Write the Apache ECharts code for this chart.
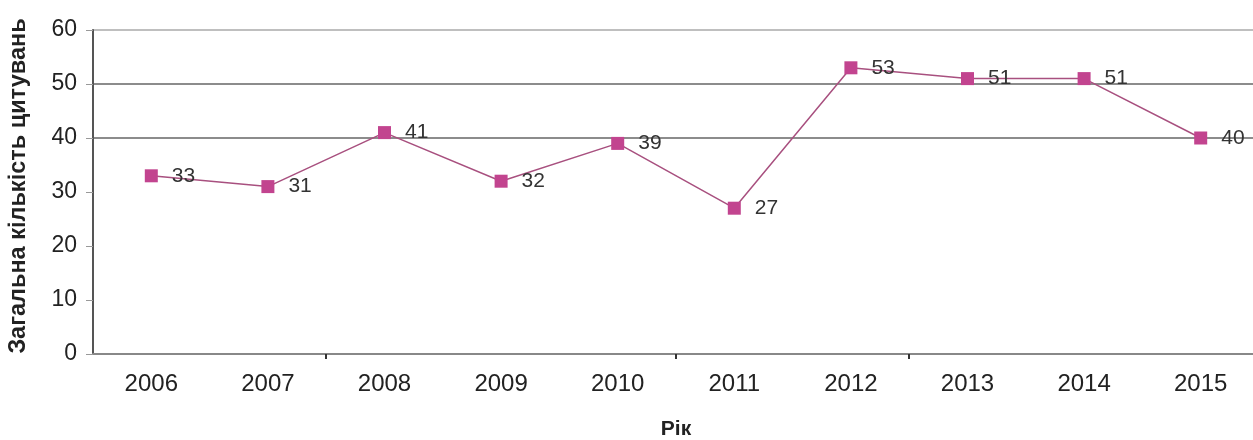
<!DOCTYPE html>
<html>
<head>
<meta charset="utf-8">
<script src="https://cdn.jsdelivr.net/npm/echarts@6/dist/echarts.min.js"></script>
<style>
html,body{margin:0;padding:0;background:#fff;}
#chart{width:1253px;height:440px;}
</style>
</head>
<body>
<div id="chart"></div>
<script>
const years = ['2006','2007','2008','2009','2010','2011','2012','2013','2014','2015'];
const citations = [33, 31, 41, 32, 39, 27, 53, 51, 51, 40];
const yAxisTitle = 'Загальна кількість цитувань';
const xAxisTitle = 'Рік';
const tickedBoundaries = [2, 5, 7];

const chart = echarts.init(document.getElementById('chart'));
const font = '"Liberation Sans", Arial, sans-serif';
chart.setOption({
  animation: false,
  backgroundColor: '#fff',
  grid: { left: 93, right: -6, top: 30, bottom: 86, containLabel: false, outerBoundsMode: 'none' },
  xAxis: {
    type: 'category',
    data: years,
    boundaryGap: true,
    name: xAxisTitle,
    nameLocation: 'middle',
    nameGap: 65,
    nameMoveOverlap: false,
    nameTextStyle: { fontFamily: font, fontSize: 21, fontWeight: 'bold', color: '#222' },
    axisLine: { lineStyle: { color: '#888', width: 2 } },
    axisTick: { show: true, length: 5, inside: false, lineStyle: { color: '#333', width: 2 },
      interval: function (idx) { return tickedBoundaries.indexOf(idx) >= 0; } },
    axisLabel: { fontFamily: font, fontSize: 24, color: '#222', margin: 18, interval: 0 },
    splitLine: { show: false }
  },
  yAxis: {
    type: 'value',
    min: 0, max: 60, interval: 10,
    name: yAxisTitle,
    nameLocation: 'middle',
    nameGap: 62,
    nameRotate: 90,
    nameTextStyle: { fontFamily: font, fontSize: 23.5, fontWeight: 'bold', color: '#222', padding: [0, 0, 0, 12] },
    axisLine: { show: true, lineStyle: { color: '#555', width: 2 } },
    axisTick: { show: true, length: 7, lineStyle: { color: '#999' } },
    axisLabel: { fontFamily: font, fontSize: 23, color: '#222', margin: 16 },
    splitLine: { show: true, lineStyle: { width: 1.5,
      color: ['rgba(0,0,0,0)','rgba(0,0,0,0)','rgba(0,0,0,0)','rgba(0,0,0,0)','#666','#666','#aaa'] } }
  },
  series: [{
    type: 'line',
    data: citations,
    symbol: 'rect',
    symbolSize: 13,
    itemStyle: { color: '#c2448f' },
    lineStyle: { color: '#a8507f', width: 1.5 },
    label: { show: true, position: 'right', distance: 14, fontFamily: font, fontSize: 21, color: '#333' }
  }]
});
</script>
</body>
</html>
